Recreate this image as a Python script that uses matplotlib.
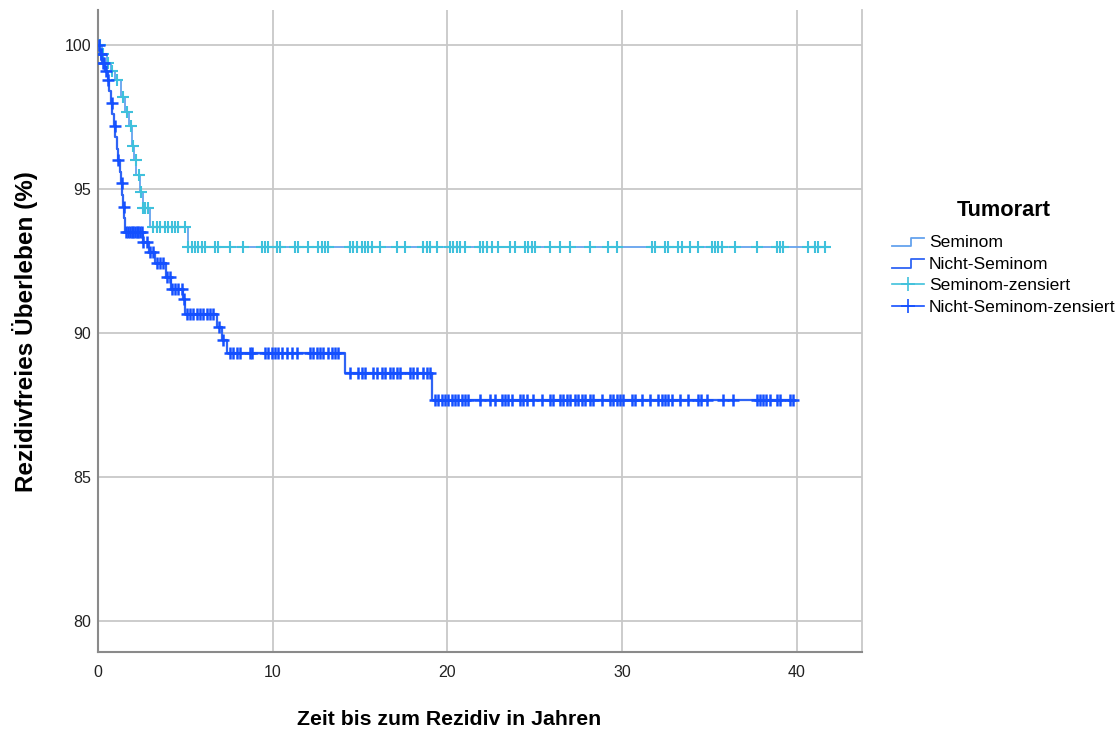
import numpy as np
import matplotlib
matplotlib.use("Agg")
import matplotlib.pyplot as plt
from matplotlib.lines import Line2D
from matplotlib.legend_handler import HandlerBase

plt.rcParams['font.family'] = ['Liberation Sans', 'DejaVu Sans']

# Ereigniszeitpunkte (Jahre) und Rezidivfreies Ueberleben (%) je Stufe
sem_t = [0.0, 0.25, 0.5, 0.75, 0.95, 1.3, 1.55, 1.8, 1.95, 2.05, 2.2, 2.4, 2.55, 2.98, 5.15]
sem_s = [100.0, 99.7, 99.4, 99.1, 98.8, 98.2, 97.7, 97.2, 96.5, 96.0, 95.5, 94.9, 94.35, 93.7, 93.0]

nsem_t = [0.0, 0.1, 0.25, 0.4, 0.55, 0.65, 0.75, 0.8, 0.9, 1.0, 1.1, 1.15, 1.25, 1.3, 1.4,
          1.45, 1.5, 1.55, 2.58, 2.9, 3.28, 3.9, 4.2, 4.85, 5.0, 6.8, 7.08, 7.36, 14.14, 19.15]
nsem_s = [100.0, 99.7, 99.4, 99.1, 98.8, 98.4, 98.0, 97.6, 97.2, 96.8, 96.4, 96.0, 95.6, 95.2, 94.8,
          94.4, 94.0, 93.5, 93.17, 92.82, 92.43, 91.95, 91.55, 91.2, 90.65, 90.22, 89.76, 89.3, 88.6, 87.67]

# zensierte Faelle
sem_cens = [0.1, 0.3, 0.6, 0.8, 1.07, 1.45, 1.64, 1.9, 2.0, 2.15, 2.36, 2.45, 2.6, 2.7, 2.85,
            3.17, 3.36, 3.55, 3.84, 4.02, 4.21, 4.41, 4.6, 4.98,
            5.17, 5.36, 5.55, 5.74, 5.93, 6.12, 6.7, 6.89, 7.56, 8.32, 9.37, 9.56, 9.75,
            10.23, 10.42, 11.28, 11.47, 12.04, 12.61, 12.8, 12.99, 13.18, 14.42, 14.61, 14.81,
            15.09, 15.28, 15.47, 15.67, 16.14, 17.1, 17.57, 18.62, 18.81, 19.0, 19.39,
            20.15, 20.34, 20.53, 20.72, 21.01, 21.87, 22.06, 22.25, 22.54, 22.91, 23.58, 23.87,
            24.44, 24.63, 24.82, 25.01, 25.87, 26.44, 27.02, 28.16, 29.21, 29.69,
            31.69, 31.88, 32.46, 32.64, 33.22, 33.41, 33.89, 34.36, 35.13, 35.32, 35.51, 35.7,
            36.46, 37.7, 38.85, 39.04, 39.23, 40.66, 41.04, 41.23, 41.61]

nsem_cens = [0.05, 0.15, 0.2, 0.3, 0.35, 0.45, 0.6, 0.78, 0.95, 1.17, 1.35, 1.47,
             1.6, 1.7, 1.83, 1.95, 2.02, 2.1, 2.21, 2.3, 2.4, 2.5, 2.6, 2.79, 2.98, 3.17,
             3.36, 3.55, 3.74, 3.95, 4.1, 4.22, 4.41, 4.6, 4.79, 4.92,
             5.07, 5.27, 5.45, 5.65, 5.84, 6.03, 6.22, 6.41, 6.6, 6.9, 7.15,
             7.56, 7.75, 7.94, 8.13, 8.7, 8.8, 9.56, 9.75, 9.94, 10.13, 10.32, 10.51, 10.8,
             11.09, 11.37, 12.14, 12.32, 12.52, 12.71, 12.9, 13.18, 13.37, 13.57, 13.76,
             14.42, 14.9, 15.09, 15.28, 15.76, 15.95, 16.24, 16.43, 16.71, 16.9, 17.1, 17.29,
             17.86, 18.05, 18.24, 18.62, 18.81, 19.0,
             19.29, 19.48, 19.67, 19.86, 20.05, 20.24, 20.44, 20.63, 20.82, 21.01, 21.2,
             21.87, 22.44, 22.72, 23.11, 23.3, 23.49, 23.68, 24.16, 24.35, 24.54, 24.92,
             25.4, 25.87, 26.06, 26.44, 26.64, 26.83, 27.02, 27.3, 27.49, 27.69, 27.88,
             28.16, 28.35, 28.83, 29.31, 29.5, 29.69, 29.88, 30.07, 30.55, 30.74, 31.12,
             31.6, 32.07, 32.27, 32.46, 32.65, 32.84, 33.32, 33.79, 34.36, 34.55, 34.84,
             35.79, 36.37, 37.7, 37.89, 38.08, 38.27, 38.46, 38.85, 39.04, 39.61, 39.8]

x_ticks = [0, 10, 20, 30, 40]
y_ticks = [80, 85, 90, 95, 100]
labels = ['Seminom', 'Nicht-Seminom', 'Seminom-zensiert', 'Nicht-Seminom-zensiert']

c_sem = '#64a2ee'
c_nsem = '#2f64f4'
c_sem_c = '#3fc1dc'
c_nsem_c = '#1450ff'


def surv_at(times, ev_t, ev_s):
    idx = np.searchsorted(ev_t, times, side='right') - 1
    return np.asarray(ev_s)[idx]


class StepHandler(HandlerBase):
    # kleines Treppensymbol fuer die Kurven in der Legende
    def create_artists(self, legend, orig_handle, xdescent, ydescent,
                       width, height, fontsize, trans):
        x0 = -xdescent
        y0 = -ydescent
        xm = x0 + width * 0.58
        xs = [x0, xm, xm, x0 + width]
        ys = [y0 + height * 0.05, y0 + height * 0.05, y0 + height * 0.75, y0 + height * 0.75]
        ln = Line2D(xs, ys, color=orig_handle.get_color(), lw=1.3)
        ln.set_transform(trans)
        return [ln]


fig = plt.figure(figsize=(11.2, 7.31), dpi=100)
ax = fig.add_axes([0.0875, 0.108, 0.682, 0.878])

for ev_t, ev_s, cens, lc, lw in [(sem_t, sem_s, sem_cens, c_sem, 1.3),
                                 (nsem_t, nsem_s, nsem_cens, c_nsem, 1.6)]:
    t_end = max(cens)
    tt = list(ev_t) + [t_end]
    ss = list(ev_s) + [ev_s[-1]]
    ax.step(tt, ss, where='post', color=lc, lw=lw, zorder=3)

ax.plot(sem_cens, surv_at(sem_cens, sem_t, sem_s), ls='none', marker='+',
        ms=9, mew=1.5, color=c_sem_c, zorder=4)
ax.plot(nsem_cens, surv_at(nsem_cens, nsem_t, nsem_s), ls='none', marker='+',
        ms=9, mew=1.8, color=c_nsem_c, zorder=5)

ax.set_xlim(0, 43.73)
ax.set_ylim(78.92, 101.22)
ax.set_xticks(x_ticks)
ax.set_yticks(y_ticks)
ax.grid(True, color='#c8c8c8', lw=1.3)
ax.set_axisbelow(True)
ax.tick_params(length=0, labelsize=11.5, colors='#222222')
ax.tick_params(axis='x', pad=9)
ax.tick_params(axis='y', pad=5)
ax.spines['top'].set_visible(False)
ax.spines['right'].set_color('#c8c8c8')
ax.spines['right'].set_linewidth(1.3)
for s in ['left', 'bottom']:
    ax.spines[s].set_color('#8a8a8a')
    ax.spines[s].set_linewidth(1.5)

ax.set_xlabel('Zeit bis zum Rezidiv in Jahren', fontsize=15.3, fontweight='bold')
ax.xaxis.set_label_coords(0.46, -0.09)
ax.set_ylabel('Rezidivfreies Überleben (%)', fontsize=17.5, fontweight='bold')
ax.yaxis.set_label_coords(-0.078, 0.5)

handles = [Line2D([], [], color=c_sem), Line2D([], [], color=c_nsem),
           Line2D([], [], color=c_sem_c, marker='+', ms=10, mew=1.2, lw=1.2),
           Line2D([], [], color=c_nsem_c, marker='+', ms=10, mew=1.2, lw=1.2)]
leg = fig.legend(handles, labels, loc='center left', bbox_to_anchor=(0.7905, 0.648),
                 frameon=False, fontsize=12.6, title='Tumorart',
                 title_fontproperties={'size': 15.7, 'weight': 'bold'},
                 handlelength=1.8, handletextpad=0.3, labelspacing=0.37,
                 borderaxespad=0, numpoints=1,
                 handler_map={handles[0]: StepHandler(), handles[1]: StepHandler()})
leg._legend_box.sep = 10

fig.savefig('out.png', dpi=100)
